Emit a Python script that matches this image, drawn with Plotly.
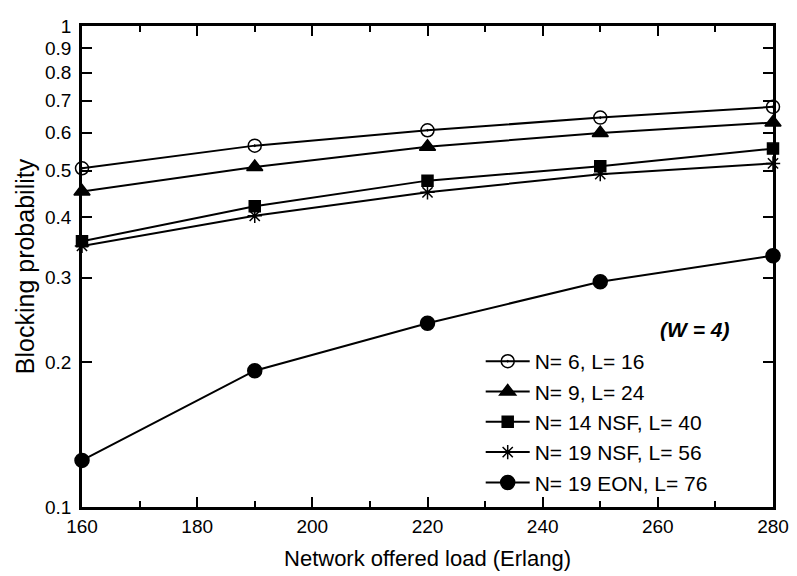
import plotly.graph_objects as go

load = [160, 190, 220, 250, 280]
s_n6 = [0.506, 0.564, 0.607, 0.645, 0.679]
s_n9 = [0.453, 0.509, 0.561, 0.599, 0.630]
s_n14 = [0.357, 0.422, 0.477, 0.511, 0.556]
s_n19nsf = [0.349, 0.403, 0.451, 0.492, 0.518]
s_n19eon = [0.125, 0.192, 0.241, 0.294, 0.333]

names = ["N= 6, L= 16", "N= 9, L= 24", "N= 14 NSF, L= 40", "N= 19 NSF, L= 56", "N= 19 EON, L= 76"]
series = [s_n6, s_n9, s_n14, s_n19nsf, s_n19eon]
symbols = ["circle-open-dot", "triangle-up", "square", "asterisk-open", "circle"]
sizes = [13, 14, 11, 12, 14]

y_ticks = [0.1, 0.2, 0.3, 0.4, 0.5, 0.6, 0.7, 0.8, 0.9, 1]
y_ticktext = ["0.1", "0.2", "0.3", "0.4", "0.5", "0.6", "0.7", "0.8", "0.9", "1"]
x_ticks = [160, 180, 200, 220, 240, 260, 280]

font = "Arial, Liberation Sans, sans-serif"

fig = go.Figure()
for name, ys, sym, sz in zip(names, series, symbols, sizes):
    fig.add_trace(go.Scatter(
        x=load, y=ys, name=name, mode="lines+markers",
        line=dict(color="black", width=2),
        marker=dict(symbol=sym, size=sz, color="black",
                    line=dict(color="black", width=1.5)),
        cliponaxis=False,
    ))

fig.update_layout(
    width=789, height=568,
    margin=dict(l=74, r=22, t=8, b=68),
    paper_bgcolor="white", plot_bgcolor="white",
    font=dict(family=font, color="black", size=19),
    showlegend=True,
    legend=dict(x=0.577, y=0.345, xanchor="left", yanchor="top",
                bgcolor="rgba(0,0,0,0)", font=dict(size=21, family=font),
                tracegroupgap=0, itemwidth=44),
    annotations=[dict(text="<b><i>(W = 4)</i></b>", x=0.939, y=0.37,
                      xref="paper", yref="paper", showarrow=False,
                      xanchor="right", yanchor="middle",
                      font=dict(size=21, family=font))],
)

fig.update_xaxes(
    range=[160, 280], tickvals=x_ticks, ticks="inside", ticklen=10,
    tickwidth=2, tickcolor="black", showline=True, linecolor="black",
    linewidth=2.5, mirror="ticks", showgrid=False, zeroline=False,
    minor=dict(ticks="inside", ticklen=6, dtick=10, tickwidth=1.5,
               tickcolor="black", showgrid=False),
    title=dict(text="Network offered load (Erlang)", font=dict(size=22), standoff=16),
    tickfont=dict(size=19),
)
fig.update_yaxes(
    type="log", range=[-1, 0], tickvals=y_ticks, ticktext=y_ticktext,
    ticks="inside", ticklen=10, tickwidth=2, tickcolor="black",
    showline=True, linecolor="black", linewidth=2.5, mirror="ticks",
    showgrid=False, zeroline=False, ticklabeloverflow="allow",
    ticklabelstandoff=4,
    title=dict(text="Blocking probability", font=dict(size=25), standoff=4),
    tickfont=dict(size=19),
)

fig.write_html("out.html")
